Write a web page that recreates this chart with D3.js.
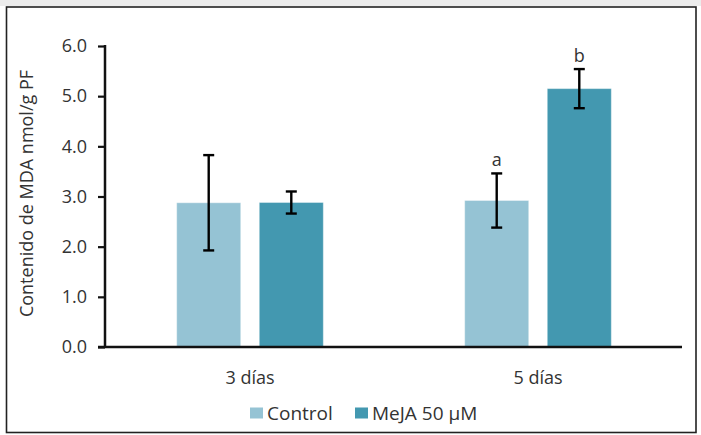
<!DOCTYPE html>
<html>
<head>
<meta charset="utf-8">
<script src="https://cdn.jsdelivr.net/npm/d3@7"></script>
<style>
  html, body { margin: 0; padding: 0; background: #ffffff; }
  svg { display: block; }
  text { font-family: "Open Sans", "Noto Sans", sans-serif; fill: #333333; }
</style>
</head>
<body>
<svg id="chart" width="701" height="435"></svg>
<script>
// ---- data ----
const categories = ["3 días", "5 días"];
const seriesNames = ["Control", "MeJA 50 µM"];
const controlValues = [2.875, 2.92];
const mejaValues = [2.88, 5.15];
const controlErrors = [0.95, 0.54];
const mejaErrors = [0.22, 0.39];
const controlLetters = ["", "a"];
const mejaLetters = ["", "b"];
const yTicks = [0, 1, 2, 3, 4, 5, 6];
const yTitle = "Contenido de MDA nmol/g PF";
const colors = ["#95c3d4", "#4398b0"];

const rows = categories.map((c, i) => ({
  cat: c,
  vals: [
    { s: seriesNames[0], v: controlValues[i], e: controlErrors[i], l: controlLetters[i], c: colors[0] },
    { s: seriesNames[1], v: mejaValues[i], e: mejaErrors[i], l: mejaLetters[i], c: colors[1] }
  ]
}));

const svg = d3.select("#chart");

// outer frame
svg.append("rect").attr("x", 0).attr("y", 0).attr("width", 701).attr("height", 6)
  .attr("fill", "#ececec");
svg.append("rect").attr("x", 6.5).attr("y", 7).attr("width", 689.5).attr("height", 425.5)
  .attr("fill", "#ffffff").attr("stroke", "#222222").attr("stroke-width", 1.6);

const axisX = 105;
const plotRight = 682;
const y = d3.scaleLinear().domain([0, 6]).range([347, 46]);

const x0 = d3.scaleBand().domain(categories).range([axisX + 1, plotRight])
  .paddingInner(0.491).paddingOuter(0.2455);
const x1 = d3.scaleBand().domain(seriesNames).range([0, x0.bandwidth()])
  .paddingInner(0.225).paddingOuter(0);

// bars
const g = svg.append("g");
const groups = g.selectAll("g.grp").data(rows).join("g")
  .attr("transform", d => `translate(${x0(d.cat)},0)`);

groups.selectAll("rect").data(d => d.vals).join("rect")
  .attr("x", d => x1(d.s))
  .attr("y", d => y(d.v))
  .attr("width", x1.bandwidth())
  .attr("height", d => y(0) - y(d.v))
  .attr("fill", d => d.c)
  .attr("stroke", "#ffffff").attr("stroke-opacity", 0.35).attr("stroke-width", 1);

// error bars
const eb = groups.selectAll("g.err").data(d => d.vals).join("g").attr("class", "err");
const cap = 5.5;
eb.append("line")
  .attr("x1", d => x1(d.s) + x1.bandwidth() / 2).attr("x2", d => x1(d.s) + x1.bandwidth() / 2)
  .attr("y1", d => y(d.v + d.e)).attr("y2", d => y(d.v - d.e))
  .attr("stroke", "#000").attr("stroke-width", 2.4);
eb.append("line")
  .attr("x1", d => x1(d.s) + x1.bandwidth() / 2 - cap).attr("x2", d => x1(d.s) + x1.bandwidth() / 2 + cap)
  .attr("y1", d => y(d.v + d.e)).attr("y2", d => y(d.v + d.e))
  .attr("stroke", "#000").attr("stroke-width", 2.4);
eb.append("line")
  .attr("x1", d => x1(d.s) + x1.bandwidth() / 2 - cap).attr("x2", d => x1(d.s) + x1.bandwidth() / 2 + cap)
  .attr("y1", d => y(d.v - d.e)).attr("y2", d => y(d.v - d.e))
  .attr("stroke", "#000").attr("stroke-width", 2.4);
eb.append("text")
  .attr("x", d => x1(d.s) + x1.bandwidth() / 2)
  .attr("y", d => y(d.v + d.e) - 7)
  .attr("text-anchor", "middle")
  .attr("font-size", 18)
  .text(d => d.l);

// y axis
const yAxis = d3.axisLeft(y).tickValues(yTicks).tickFormat(d3.format(".1f"))
  .tickSize(7).tickPadding(11);
const ya = svg.append("g").attr("transform", `translate(${axisX},0)`).call(yAxis);
ya.select(".domain").remove();
ya.selectAll(".tick line").attr("stroke", "#111").attr("stroke-width", 2.2);
ya.selectAll(".tick text").attr("font-size", 18).attr("fill", "#333")
  .style("font-family", '"Open Sans", sans-serif');
ya.append("line").attr("x1", 0).attr("x2", 0).attr("y1", y(6) - 1).attr("y2", y(0))
  .attr("stroke", "#111").attr("stroke-width", 2.5);

// x axis
const xAxis = d3.axisBottom(x0).tickSize(0).tickPadding(24);
const xa = svg.append("g").attr("transform", `translate(0,${y(0)})`).call(xAxis);
xa.select(".domain").remove();
xa.selectAll(".tick text").attr("font-size", 18).attr("fill", "#333")
  .style("font-family", '"Open Sans", sans-serif');
svg.append("line").attr("x1", 98).attr("x2", plotRight).attr("y1", y(0)).attr("y2", y(0))
  .attr("stroke", "#111").attr("stroke-width", 2.5);

// y title
svg.append("text")
  .attr("transform", `translate(33,${(y(0) + y(6)) / 2 - 3}) rotate(-90)`)
  .attr("text-anchor", "middle")
  .attr("font-size", 18)
  .text(yTitle);

// legend
const legendItems = [
  { name: seriesNames[0], color: colors[0], x: 250 },
  { name: seriesNames[1], color: colors[1], x: 355 }
];
const lg = svg.append("g");
const li = lg.selectAll("g").data(legendItems).join("g")
  .attr("transform", d => `translate(${d.x},0)`);
li.append("rect").attr("x", 0).attr("y", 407.5).attr("width", 13).attr("height", 11)
  .attr("fill", d => d.color);
li.append("text").attr("x", 17).attr("y", 419.5).attr("font-size", 19).text(d => d.name);
</script>
</body>
</html>
